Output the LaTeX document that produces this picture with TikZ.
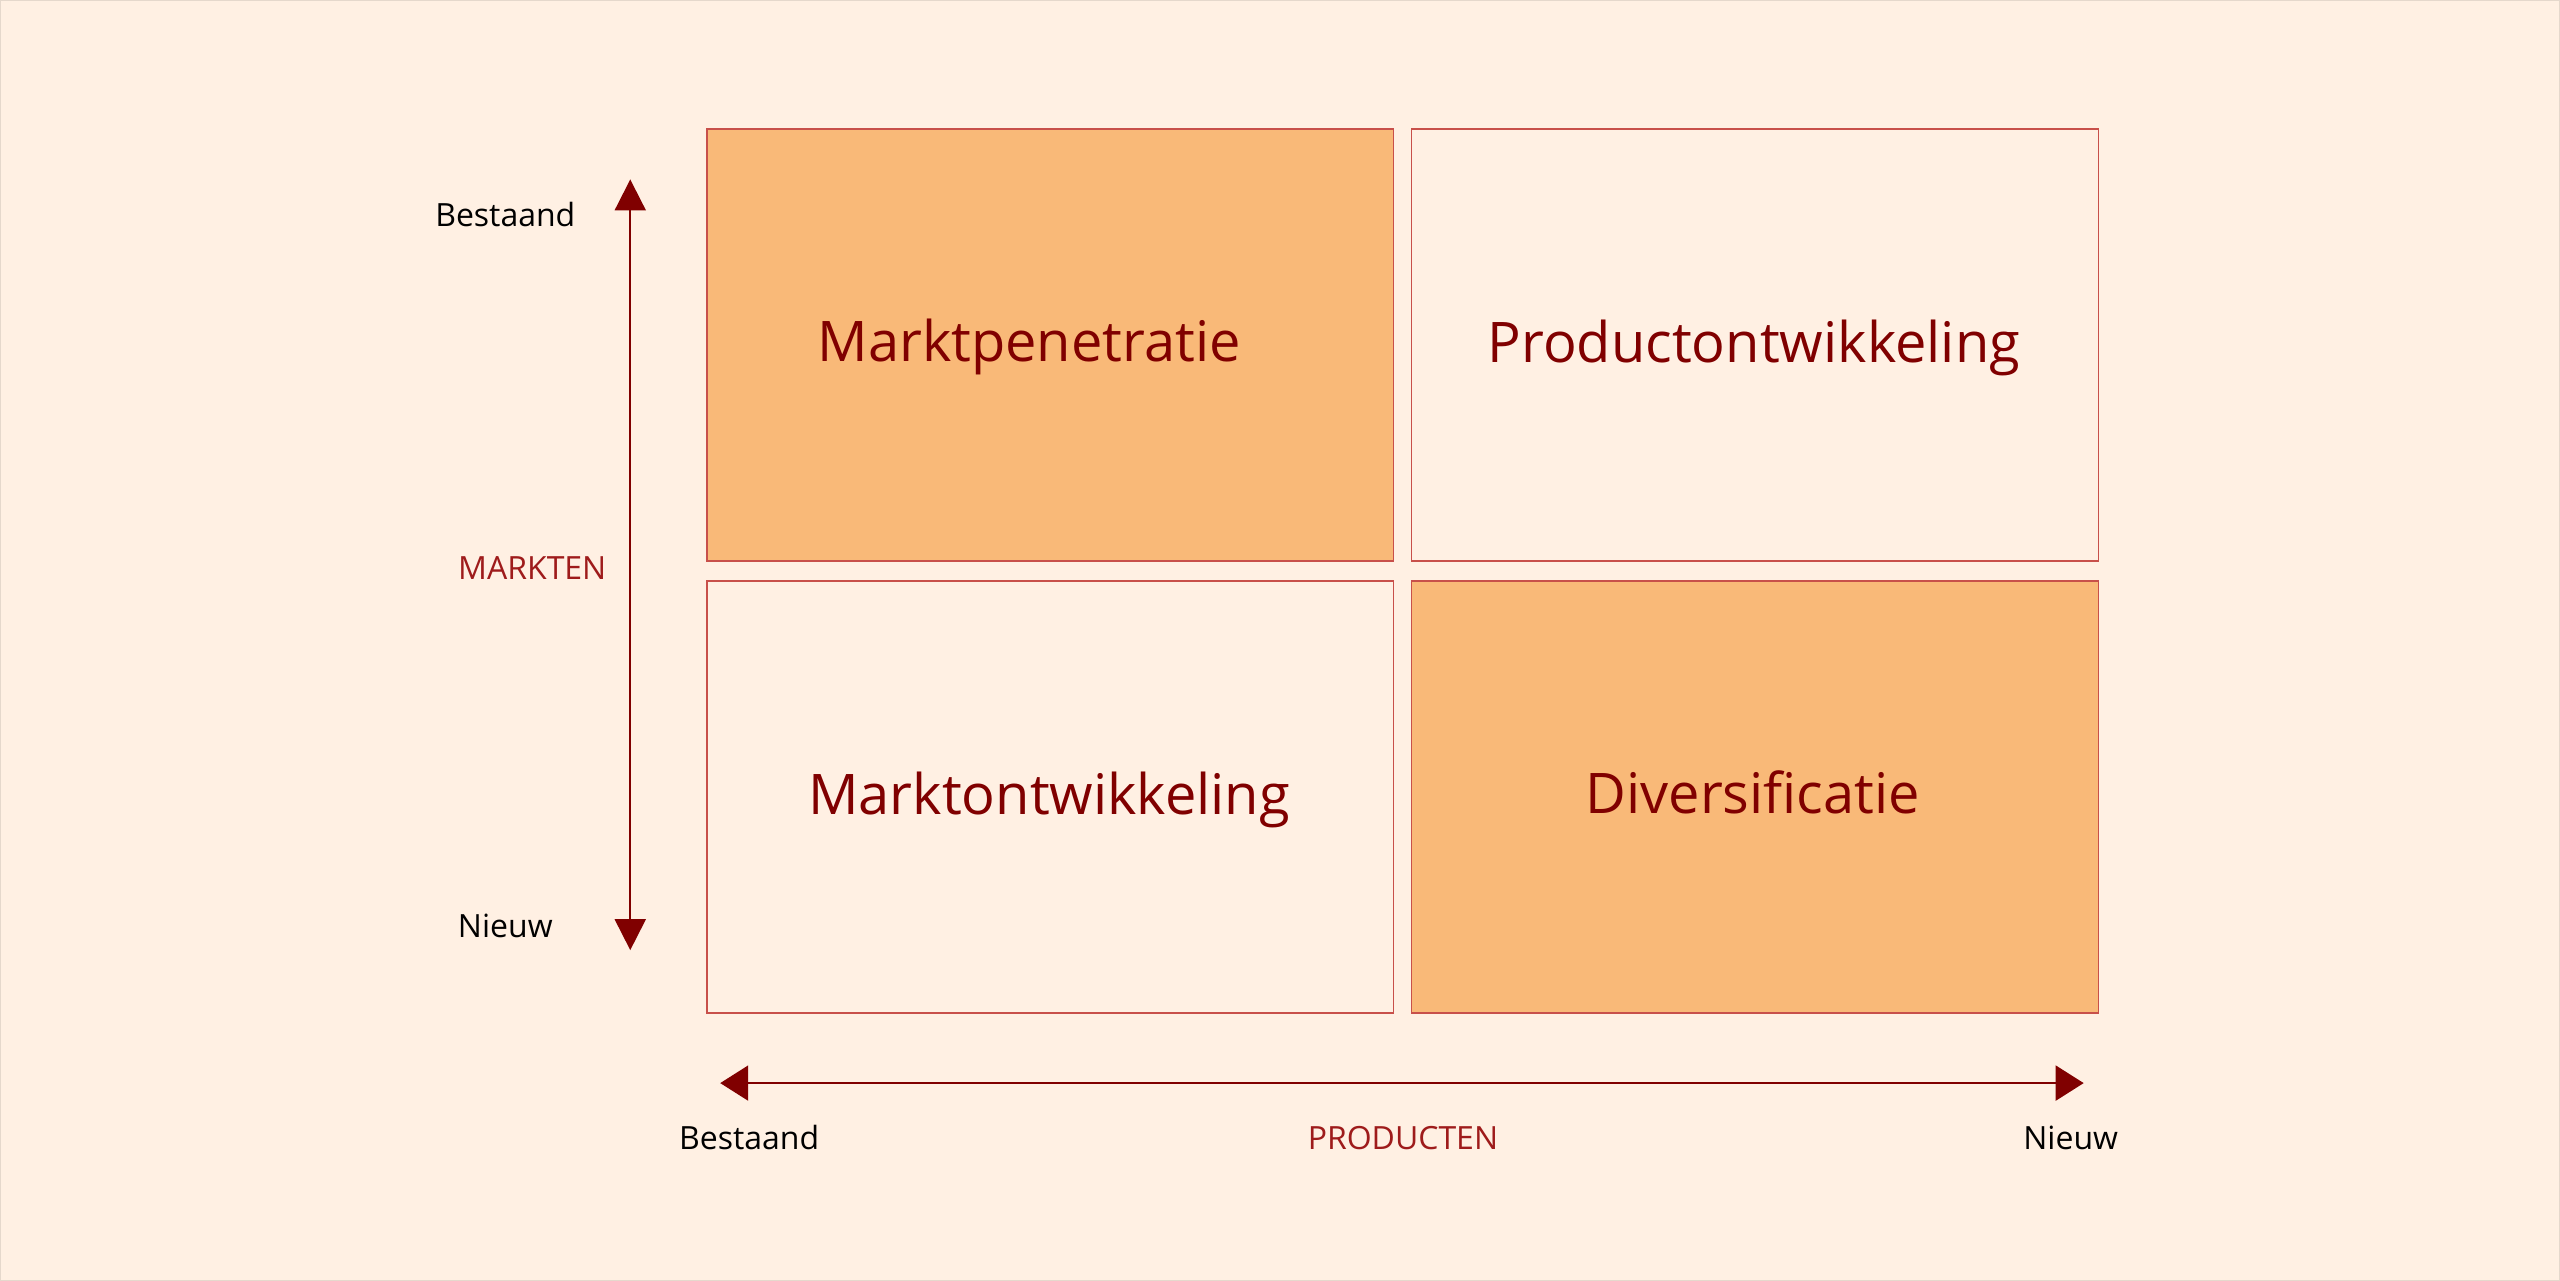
\documentclass[tikz,border=0pt]{standalone}
\usepackage{fontspec}
\setmainfont{Open Sans}
\usetikzlibrary{arrows.meta}
\definecolor{bg}{HTML}{FFF0E3}
\definecolor{qfill}{HTML}{F9B978}
\definecolor{qline}{HTML}{C8504A}
\definecolor{darkred}{HTML}{800000}
\definecolor{axred}{HTML}{9E1B1B}
\tikzset{
  quad/.style={draw=qline, line width=0.75pt, minimum width=343.5pt, minimum height=216pt, anchor=north west, inner sep=0pt},
  hot/.style={quad, fill=qfill},
  cold/.style={quad, fill=bg},
  qlabel/.style={anchor=base, inner sep=0pt, text=darkred, font=\fontsize{28}{32}\selectfont},
  small/.style={anchor=base, inner sep=0pt, font=\fontsize{16}{19}\selectfont},
  axis/.style={small, text=axred},
  axarrow/.style={draw=darkred, line width=1pt},
}
\begin{document}
\begin{tikzpicture}[x=0.5pt,y=-0.5pt]
\fill[bg] (0,0) rectangle (2560,1280);
\draw[draw=bg!90!black, line width=0.5pt] (0,0) rectangle (2560,1280);
\useasboundingbox (0,0) rectangle (2560,1280);
% quadrants
\node[hot]  (q1) at (706,128) {};
\node[cold] (q2) at (1411,128) {};
\node[cold] (q3) at (706,580) {};
\node[hot]  (q4) at (1411,580) {};
\node[qlabel] (l1) at (1029,361) {Marktpenetratie};
\node[qlabel] (l2) at (1754,362) {Productontwikkeling};
\node[qlabel] (l3) at (1049,814) {Marktontwikkeling};
\node[qlabel] (l4) at (1753,813) {Diversificatie};
% vertical axis
\coordinate (vt) at (630,179);
\coordinate (vb) at (630,950);
\draw[axarrow, {Triangle[length=15.5pt,width=15.5pt]}-{Triangle[length=15.5pt,width=15.5pt]}] (vt) -- (vb);
\node[small] (vbest) at (505,226) {Bestaand};
\node[axis] (markten) at (532,579) {MARKTEN};
\node[small] (vnieuw) at (505,937) {Nieuw};
% horizontal axis
\coordinate (hl) at (720,1083);
\coordinate (hr) at (2084,1083);
\draw[axarrow, {Triangle[length=14pt,width=17.5pt]}-{Triangle[length=14pt,width=17.5pt]}] (hl) -- (hr);
\node[small] (hbest) at (749,1149) {Bestaand};
\node[axis] (producten) at (1403,1149) {PRODUCTEN};
\node[small] (hnieuw) at (2071,1149) {Nieuw};
\end{tikzpicture}
\end{document}
